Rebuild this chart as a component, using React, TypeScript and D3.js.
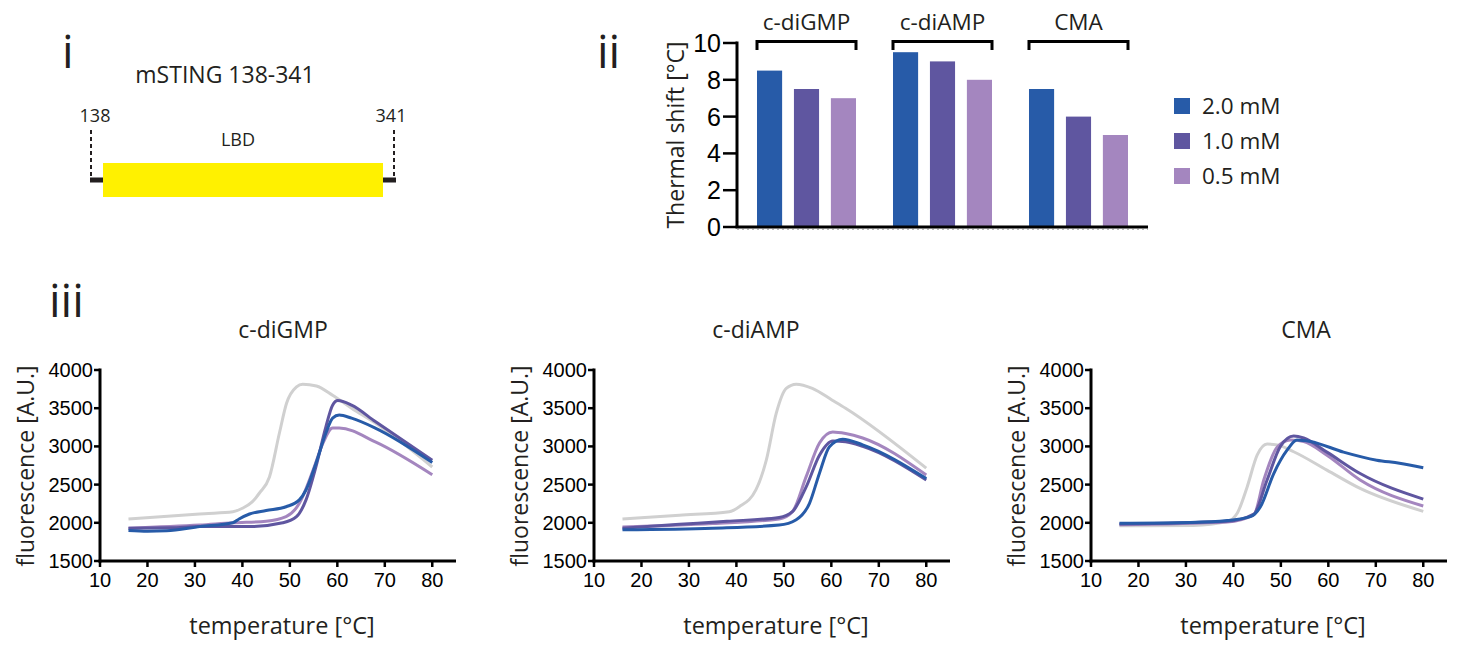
import React from 'react';
import * as d3 from 'd3';

// panel ii: thermal shift bars
const ligands = ['c-diGMP', 'c-diAMP', 'CMA'];
const doses = ['2.0 mM', '1.0 mM', '0.5 mM'];
const shiftGMP = [8.5, 7.5, 7.0];
const shiftAMP = [9.5, 9.0, 8.0];
const shiftCMA = [7.5, 6.0, 5.0];
const shiftTicks = [0, 2, 4, 6, 8, 10];

// panel iii: melt curves [temperature, fluorescence]
const gmpControl = [[16, 2050], [25, 2090], [32, 2120], [38, 2145], [40, 2190], [42, 2270], [43.6, 2390], [45.7, 2600], [47.8, 3175], [49.3, 3565], [51.4, 3780], [52.7, 3815], [55.6, 3790], [59, 3670], [63, 3500], [68, 3305], [80, 2730]];
const gmp20 = [[16, 1900], [20, 1890], [24, 1895], [31, 1950], [38, 2000], [39.3, 2050], [41.5, 2115], [45, 2160], [49.2, 2210], [52, 2300], [53.4, 2430], [55.5, 2780], [57.6, 3175], [59, 3370], [60.4, 3410], [63, 3370], [68, 3240], [80, 2790]];
const gmp10 = [[16, 1930], [25, 1935], [31, 1950], [41.5, 1950], [48.5, 2000], [51.4, 2080], [53.4, 2300], [55.5, 2735], [57.6, 3260], [59, 3540], [60.1, 3600], [63, 3540], [68, 3325], [80, 2820]];
const gmp05 = [[16, 1930], [31, 1970], [38, 2000], [45, 2020], [49.2, 2080], [52, 2255], [54.9, 2690], [57, 3045], [59, 3240], [60.4, 3240], [68, 3060], [80, 2630]];

const ampControl = [[16, 2050], [28, 2100], [38.5, 2145], [40.6, 2210], [44.1, 2430], [46.3, 2820], [48.4, 3435], [50.5, 3760], [52.6, 3815], [56, 3760], [60.2, 3605], [63, 3500], [80, 2715]];
const amp20 = [[16, 1910], [35, 1930], [49, 1970], [52.6, 2040], [55.4, 2255], [57.5, 2650], [59.6, 2995], [62.4, 3095], [66.6, 3020], [80, 2580]];
const amp10 = [[16, 1930], [28, 1980], [38, 2020], [49, 2070], [51.8, 2145], [54.7, 2470], [57.5, 2885], [60.3, 3070], [63, 3060], [66.6, 3000], [80, 2560]];
const amp05 = [[16, 1945], [35, 1990], [49, 2050], [51.8, 2145], [54.7, 2605], [57.5, 3045], [60.3, 3190], [63, 3170], [66.6, 3110], [80, 2625]];

const cmaControl = [[16, 1960], [31.6, 1965], [38.7, 2015], [40.8, 2125], [42.9, 2470], [45, 2885], [47.1, 3030], [49.2, 3020], [52.7, 2930], [59.7, 2690], [66.7, 2450], [80, 2150]];
const cma20 = [[16, 1995], [31, 2005], [38.7, 2030], [43.6, 2080], [45.7, 2210], [48.5, 2645], [51.3, 2950], [53.4, 3085], [56.2, 3065], [63.2, 2925], [70.2, 2820], [75, 2780], [80, 2720]];
const cma10 = [[16, 1985], [38.7, 2020], [44.3, 2115], [47.1, 2560], [49.9, 3000], [52.7, 3135], [54.8, 3110], [59.7, 2925], [66.7, 2645], [80, 2310]];
const cma05 = [[16, 1975], [38.7, 2010], [44.3, 2105], [46.4, 2560], [49.2, 2990], [52, 3085], [54.8, 3065], [59.7, 2885], [66.7, 2560], [80, 2220]];

const tempTicks = [10, 20, 30, 40, 50, 60, 70, 80];
const fluoTicks = [1500, 2000, 2500, 3000, 3500, 4000];

const doseColors = ['#275ba8', '#5f56a0', '#a486bf'];
const controlColor = '#d0d0d0';
const myriad = '"Open Sans", "Noto Sans", sans-serif';
const arial = '"Liberation Sans", Arial, sans-serif';

const MeltPanel = ({ dx, title, titleX, control, s20, s10, s05 }) => {
  const x = d3.scaleLinear().domain([10, 85]).range([100 + dx, 456 + dx]);
  const y = d3.scaleLinear().domain([1500, 4000]).range([561, 370]);
  const line = d3.line().x(d => x(d[0])).y(d => y(d[1])).curve(d3.curveMonotoneX);
  const x0 = x(10), y0 = y(1500);
  return (
    <g>
      <text x={titleX} y={338} textAnchor="middle" fontFamily={myriad} fontSize={23} fill="#231f20">{title}</text>
      <path d={line(control)} fill="none" stroke={controlColor} strokeWidth={3} />
      <path d={line(s05)} fill="none" stroke={doseColors[2]} strokeWidth={3} />
      <path d={line(s10)} fill="none" stroke={doseColors[1]} strokeWidth={3} />
      <path d={line(s20)} fill="none" stroke={doseColors[0]} strokeWidth={3} />
      <line x1={x0} x2={x0} y1={y(4000) - 1.5} y2={y0 + 1.5} stroke="#000" strokeWidth={3} />
      <line x1={x0 - 1.5} x2={x(85)} y1={y0} y2={y0} stroke="#000" strokeWidth={3} />
      {fluoTicks.map(t => (
        <g key={t}>
          <line x1={x0 - 6} x2={x0} y1={y(t)} y2={y(t)} stroke="#000" strokeWidth={2.5} />
          <text x={x0 - 7} y={y(t) + 7} textAnchor="end" fontFamily={arial} fontSize={20} fill="#000">{t}</text>
        </g>
      ))}
      {tempTicks.map(t => (
        <g key={t}>
          <line x1={x(t)} x2={x(t)} y1={y0} y2={y0 + 6} stroke="#000" strokeWidth={2.5} />
          <text x={x(t)} y={y0 + 26} textAnchor="middle" fontFamily={arial} fontSize={20} fill="#000">{t}</text>
        </g>
      ))}
      <text x={dx + 282} y={634} textAnchor="middle" fontFamily={myriad} fontSize={23.5} fill="#231f20">temperature [°C]</text>
      <text transform={`translate(${34 + dx},466) rotate(-90)`} textAnchor="middle" fontFamily={myriad} fontSize={23} fill="#231f20">fluorescence [A.U.]</text>
    </g>
  );
};

const App = () => {
  // panel ii scales
  const yS = d3.scaleLinear().domain([0, 10]).range([227, 43]);
  const xG = d3.scaleBand().domain(ligands).range([757, 1128]).paddingInner(0.272);
  const xD = d3.scaleBand().domain(doses).range([0, xG.bandwidth()]).paddingInner(0.32);
  const shifts = [shiftGMP, shiftAMP, shiftCMA];

  return (
    <svg width={1463} height={652} style={{ position: 'absolute', left: 0, top: 0, background: '#fff' }}>
      {/* panel labels */}
      <text x={62} y={68} fontFamily={myriad} fontSize={46} fill="#231f20">i</text>
      <text x={597} y={68} fontFamily={myriad} fontSize={46} fill="#231f20">ii</text>
      <text x={49} y={317} fontFamily={myriad} fontSize={46} fill="#231f20">iii</text>

      {/* panel i: construct */}
      <text x={225} y={83} textAnchor="middle" fontFamily={myriad} fontSize={23} fill="#231f20">mSTING 138-341</text>
      <text x={95} y={122} textAnchor="middle" fontFamily={myriad} fontSize={18} fill="#231f20">138</text>
      <text x={391} y={122} textAnchor="middle" fontFamily={myriad} fontSize={18} fill="#231f20">341</text>
      <text x={238} y={146} textAnchor="middle" fontFamily={myriad} fontSize={18} fill="#231f20">LBD</text>
      <line x1={91} x2={91} y1={130} y2={178} stroke="#231f20" strokeWidth={2} strokeDasharray="4,3" />
      <line x1={394} x2={394} y1={130} y2={178} stroke="#231f20" strokeWidth={2} strokeDasharray="4,3" />
      <line x1={90} x2={396} y1={180} y2={180} stroke="#231f20" strokeWidth={5} />
      <rect x={103} y={163} width={280} height={34} fill="#fff100" />

      {/* panel ii: bars */}
      {ligands.map((g, gi) => (
        <g key={g}>
          <text x={xG(g) + xG.bandwidth() / 2} y={30} textAnchor="middle" fontFamily={myriad} fontSize={22.5} fill="#231f20">{g}</text>
          <path d={`M${xG(g)},50V41.5H${xG(g) + xG.bandwidth()}V50`} fill="none" stroke="#000" strokeWidth={3} />
          {doses.map((d, di) => (
            <rect key={d} x={xG(g) + xD(d)} y={yS(shifts[gi][di])} width={xD.bandwidth()} height={yS(0) - yS(shifts[gi][di])} fill={doseColors[di]} />
          ))}
        </g>
      ))}
      <line x1={737} x2={737} y1={yS(10) - 1.5} y2={yS(0)} stroke="#000" strokeWidth={3} />
      <line x1={735.5} x2={1148} y1={yS(0)} y2={yS(0)} stroke="#000" strokeWidth={3} />
      <line x1={737} x2={1148} y1={yS(0) + 2} y2={yS(0) + 2} stroke="#777" strokeWidth={1} strokeDasharray="2,3" />
      {shiftTicks.map(t => (
        <g key={t}>
          <line x1={723} x2={737} y1={yS(t)} y2={yS(t)} stroke="#000" strokeWidth={2.5} />
          <text x={721} y={yS(t) + 9} textAnchor="end" fontFamily={arial} fontSize={25} fill="#000">{t}</text>
        </g>
      ))}
      <text transform="translate(684,135) rotate(-90)" textAnchor="middle" fontFamily={myriad} fontSize={23} fill="#231f20">Thermal shift [°C]</text>
      {doses.map((d, di) => (
        <g key={d}>
          <rect x={1174} y={98 + di * 35} width={16} height={16} fill={doseColors[di]} />
          <text x={1202} y={114 + di * 35} fontFamily={myriad} fontSize={22.5} fill="#231f20">{d}</text>
        </g>
      ))}

      {/* panel iii: melt curves */}
      <MeltPanel dx={0} titleX={283} title="c-diGMP" control={gmpControl} s20={gmp20} s10={gmp10} s05={gmp05} />
      <MeltPanel dx={494} titleX={756} title="c-diAMP" control={ampControl} s20={amp20} s10={amp10} s05={amp05} />
      <MeltPanel dx={991} titleX={1306} title="CMA" control={cmaControl} s20={cma20} s10={cma10} s05={cma05} />
    </svg>
  );
};

export default App;
